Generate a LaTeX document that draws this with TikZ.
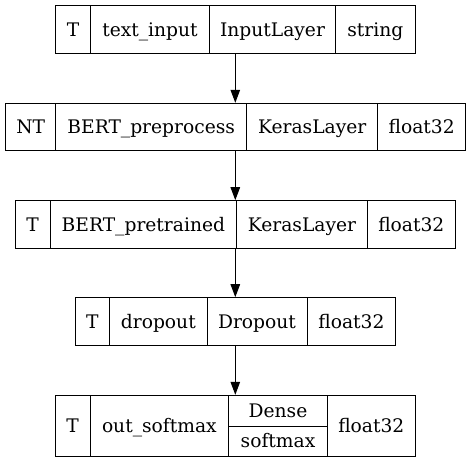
\documentclass[tikz,border=0pt]{standalone}
\usepackage{fontspec}
\setmainfont{DejaVu Serif}
\usetikzlibrary{arrows.meta}
\begin{document}
\begin{tikzpicture}[x=1pt,y=-1pt,
  cell/.style={draw=black,line width=1pt,inner sep=0pt,rectangle,
    text height=17pt,text depth=4pt,
    font=\fontsize{18.67}{22}\selectfont,text=black},
  arr/.style={line width=1pt,-{Triangle[length=13pt,width=9.5pt]}}]
\useasboundingbox[fill=white] (0,0) rectangle (471,463);
% row 1
\node[cell,minimum width=35pt,minimum height=47.6pt] (r1a) at (73.2,29.5) {T};
\node[cell,minimum width=118.6pt,minimum height=47.6pt] (r1b) at (150,29.5) {text\_input};
\node[cell,minimum width=126.4pt,minimum height=47.6pt] (r1c) at (272.5,29.5) {InputLayer};
\node[cell,minimum width=79.3pt,minimum height=47.6pt] (r1d) at (375.35,29.5) {string};
% row 2
\node[cell,minimum width=50pt,minimum height=47.4pt] (r2a) at (30.7,127) {NT};
\node[cell,minimum width=191pt,minimum height=47.4pt] (r2b) at (151.2,127) {BERT\_preprocess};
\node[cell,minimum width=131pt,minimum height=47.4pt] (r2c) at (312.2,127) {KerasLayer};
\node[cell,minimum width=88pt,minimum height=47.4pt] (r2d) at (421.7,127) {float32};
% row 3
\node[cell,minimum width=35pt,minimum height=47.6pt] (r3a) at (32.5,224.5) {T};
\node[cell,minimum width=186.7pt,minimum height=47.6pt] (r3b) at (143.35,224.5) {BERT\_pretrained};
\node[cell,minimum width=130.6pt,minimum height=47.6pt] (r3c) at (302,224.5) {KerasLayer};
\node[cell,minimum width=88pt,minimum height=47.6pt] (r3d) at (411.3,224.5) {float32};
% row 4
\node[cell,minimum width=34.7pt,minimum height=48pt] (r4a) at (92.35,321.7) {T};
\node[cell,minimum width=97.3pt,minimum height=48pt] (r4b) at (158.35,321.7) {dropout};
\node[cell,minimum width=100pt,minimum height=48pt] (r4c) at (257,321.7) {Dropout};
\node[cell,minimum width=88.7pt,minimum height=48pt] (r4d) at (351.35,321.7) {float32};
% row 5
\node[cell,minimum width=35pt,minimum height=61pt] (r5a) at (72.5,425.8) {T};
\node[cell,minimum width=138.7pt,minimum height=61pt] (r5b) at (159.35,425.8) {out\_softmax};
\node[cell,minimum width=98.6pt,minimum height=30.7pt] (r5c) at (278,410.65) {Dense};
\node[cell,minimum width=98.6pt,minimum height=30.3pt] (r5e) at (278,441.15) {softmax};
\node[cell,minimum width=88pt,minimum height=61pt] (r5d) at (371.3,425.8) {float32};
% arrows
\coordinate (ax) at (235.3,0);
\draw[arr] (ax |- r1b.south) -- (ax |- r2b.north);
\draw[arr] (ax |- r2b.south) -- (ax |- r3b.north);
\draw[arr] (ax |- r3b.south) -- (ax |- r4b.north);
\draw[arr] (ax |- r4b.south) -- (ax |- r5b.north);
\end{tikzpicture}
\end{document}
